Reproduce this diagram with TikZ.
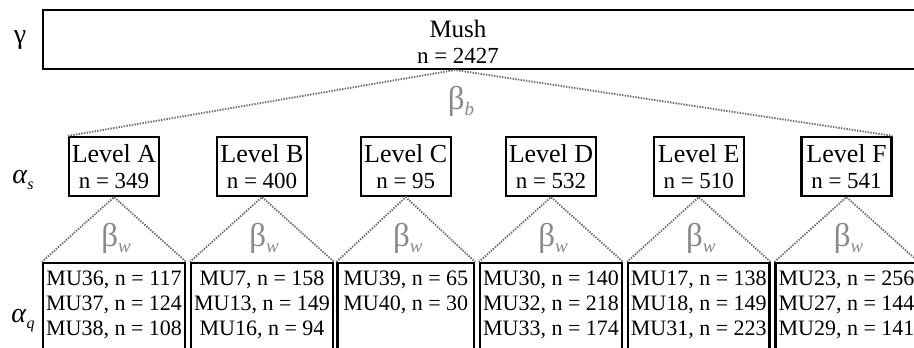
\documentclass[tikz,border=0pt]{standalone}
\usepackage{fontspec}
\setmainfont{Liberation Serif}
\definecolor{betagray}{HTML}{8A8A8A}
\definecolor{dotgray}{HTML}{6E6E6E}
\newcommand\sub[1]{\raisebox{-0.22em}{\fontsize{16}{16}\selectfont\itshape #1}}
\newcommand\bsub[1]{\raisebox{-0.2em}{\fontsize{19}{19}\selectfont\itshape #1}}
\tikzset{
  box/.style={draw=black, line width=2.2pt, inner sep=0pt, rectangle},
  lvlbox/.style={box, minimum width=90pt, minimum height=59pt},
  childbox/.style={box, minimum height=97pt},
  dotline/.style={draw=dotgray, line width=1.9pt, dash pattern=on 1.4pt off 1.3pt},
  txt/.style={anchor=base, inner sep=0pt, text=black},
  bigtxt/.style={txt, font=\fontsize{26}{26}\selectfont},
  midtxt/.style={txt, font=\fontsize{23}{23}\selectfont},
  rowtxt/.style={txt, font=\fontsize{22}{22}\selectfont},
  betatxt/.style={anchor=base, inner sep=0pt, text=betagray, font=\fontsize{33}{33}\selectfont},
  greektxt/.style={anchor=base, inner sep=0pt, text=black, font=\fontsize{28}{28}\selectfont}
}
\newcommand\lvl[5]{%
  \node[lvlbox] (L#1) at (#2,166.5) {};
  \node[bigtxt] (L#1t) at (#2,162) {Level #4};
  \node[midtxt] (L#1n) at (#2,188) {n = #5};
  \node[childbox, minimum width=#3] (C#1) at (#2,311.5) {};
  \draw[dotline] (C#1.north west) -- (L#1.south) -- (C#1.north east);
  \node[betatxt] (B#1) at ([xshift=2pt]L#1.south |- 0,246) {β\bsub{w}};
}
\begin{document}
\begin{tikzpicture}[x=1pt,y=-1pt]
\clip (0,0) rectangle (914,348);
\fill[white] (0,0) rectangle (914,348);
% top box
\node[box, minimum width=890pt, minimum height=59pt] (mush) at (488,39.5) {};
\node[bigtxt, font=\fontsize{25}{25}\selectfont] (musht) at (458,37) {Mush};
\node[midtxt] (mushn) at (458,63) {n = 2427};
\coordinate (apex) at (455,70);
% left labels
\node[greektxt] (gamma) at (20,43) {γ};
\node[greektxt] (as) at (23,183) {\textit{α}\sub{s}};
\node[greektxt] (aq) at (23,322) {\textit{α}\sub{q}};
% levels
\lvl{A}{114}{142pt}{A}{349}
\lvl{B}{262}{142pt}{B}{400}
\lvl{C}{405.75}{136.5pt}{C}{95}
\lvl{D}{551}{142pt}{D}{532}
\lvl{E}{698.75}{141.5pt}{E}{510}
\lvl{F}{846.5}{142pt}{F}{541}
\draw[dotline] (LA.north west) -- (apex) -- (LF.north east);
\node[betatxt] (bb) at (461,109) {β\bsub{b}};
% rows
\node[rowtxt] (rA1) at (114,285) {MU36, n = 117};
\node[rowtxt] (rA2) at (114,310) {MU37, n = 124};
\node[rowtxt] (rA3) at (114,335) {MU38, n = 108};
\node[rowtxt] (rB1) at (262,285) {MU7, n = 158};
\node[rowtxt] (rB2) at (262,310) {MU13, n = 149};
\node[rowtxt] (rB3) at (262,335) {MU16, n = 94};
\node[rowtxt] (rC1) at (405.75,285) {MU39, n = 65};
\node[rowtxt] (rC2) at (405.75,310) {MU40, n = 30};
\node[rowtxt] (rD1) at (551,285) {MU30, n = 140};
\node[rowtxt] (rD2) at (551,310) {MU32, n = 218};
\node[rowtxt] (rD3) at (551,335) {MU33, n = 174};
\node[rowtxt] (rE1) at (698.75,285) {MU17, n = 138};
\node[rowtxt] (rE2) at (698.75,310) {MU18, n = 149};
\node[rowtxt] (rE3) at (698.75,335) {MU31, n = 223};
\node[rowtxt] (rF1) at (846.5,285) {MU23, n = 256};
\node[rowtxt] (rF2) at (846.5,310) {MU27, n = 144};
\node[rowtxt] (rF3) at (846.5,335) {MU29, n = 141};
\end{tikzpicture}
\end{document}
